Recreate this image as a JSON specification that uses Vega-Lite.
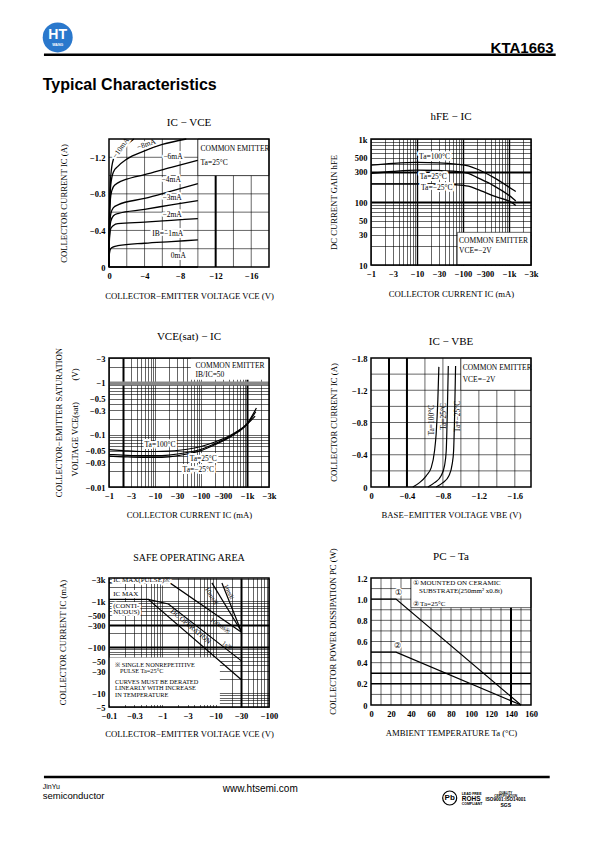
{
  "$schema": "https://vega.github.io/schema/vega-lite/v6.json",
  "padding": {"left": 42, "top": 22, "right": 0, "bottom": 0},
  "background": "white",
  "columns": 2,
  "spacing": {"row": 91, "column": 102},
  "bounds": "flush",
  "align": "each",
  "config": {
    "view": {"stroke": null},
    "font": "Liberation Serif",
    "axis": {
      "domain": false, "ticks": false, "grid": true,
      "gridColor": "black", "gridOpacity": 1, "gridWidth": 0.6,
      "labelFont": "Liberation Serif", "labelFontSize": 8.5, "labelFontWeight": "bold", "labelColor": "black", "labelPadding": 4,
      "labelOverlap": "greedy", "labelFlush": false, "labelBound": false,
      "titleFont": "Liberation Serif", "titleFontSize": 8.7, "titleFontWeight": "normal", "titleColor": "black"
    },
    "axisX": {"titleAngle": 0, "titleBaseline": "middle", "titleAlign": "center"},
    "axisY": {"titleAngle": -90, "titleBaseline": "middle", "titleAlign": "center"},
    "title": {"font": "Liberation Serif", "fontSize": 11, "fontWeight": "normal", "color": "black", "frame": "group", "anchor": "middle", "baseline": "alphabetic"},
    "text": {"font": "Liberation Serif", "fontSize": 7.5, "color": "black"}
  },
  "concat": [
    {
      "width": 160, "height": 25,
      "layer": [
        {"data": {"values": [{}]}, "mark": {"type": "point", "shape": "circle", "filled": true, "size": 900, "color": "#2a78cc", "opacity": 1},
         "encoding": {"x": {"datum": -51.3, "scale": {"domain": [0, 160]}, "axis": null}, "y": {"datum": 15, "scale": {"domain": [0, 25], "reverse": true}, "axis": null}}},
        {"data": {"values": [{}]}, "mark": {"type": "text", "text": "HT", "font": "Liberation Sans", "fontSize": 14, "fontWeight": "bold", "color": "white", "align": "center", "baseline": "middle"},
         "encoding": {"x": {"datum": -51.3}, "y": {"datum": 12.5}}},
        {"data": {"values": [{}]}, "mark": {"type": "text", "text": "WANG", "font": "Liberation Sans", "fontSize": 3.5, "fontWeight": "bold", "color": "white", "align": "center", "baseline": "middle"},
         "encoding": {"x": {"datum": -51.3}, "y": {"datum": 23}}},
        {"data": {"values": [{}]}, "mark": {"type": "rule", "color": "black", "strokeWidth": 2.5},
         "encoding": {"x": {"datum": -65.05}, "x2": {"datum": 446.7}, "y": {"datum": 33}}},
        {"data": {"values": [{}]}, "mark": {"type": "text", "text": "Typical Characteristics", "font": "Liberation Sans", "fontSize": 16, "fontWeight": "bold", "color": "black", "align": "left", "baseline": "alphabetic"},
         "encoding": {"x": {"datum": -66.3}, "y": {"datum": 70}}}
      ]
    },
    {
      "width": 160, "height": 25,
      "data": {"values": [{}]},
      "mark": {"type": "text", "text": "KTA1663", "font": "Liberation Sans", "fontSize": 15, "fontWeight": "bold", "color": "black", "align": "right", "baseline": "alphabetic"},
      "encoding": {"x": {"datum": 182.7, "scale": {"domain": [0, 160]}, "axis": null}, "y": {"datum": 30, "scale": {"domain": [0, 25], "reverse": true}, "axis": null}}
    },
    {
      "width": 160, "height": 128,
      "title": {"text": "IC  −  VCE", "offset": 8},
      "layer": [
        {"data": {"values": [{"vce": 2}, {"vce": 4}, {"vce": 6}, {"vce": 8}, {"vce": 10}, {"vce": 12}, {"vce": 14}, {"vce": 16}]},
         "mark": {"type": "rule", "color": "black"},
         "encoding": {
           "x": {"field": "vce", "type": "quantitative", "scale": {"domain": [0, 18], "nice": false},
             "axis": {"title": "COLLECTOR−EMITTER VOLTAGE VCE (V)", "titleX": 80, "titleY": 28, "grid": false, "tickCount": 50,
               "values": [0, 4, 8, 12, 16],
               "labelExpr": "datum.value == 0 ? '0' : '−' + datum.value"}},
           "strokeWidth": {"condition": {"test": "datum.vce == 12", "value": 2}, "value": 0.6}}},
        {"data": {"values": [{"ic": 0.2}, {"ic": 0.4}, {"ic": 0.6}, {"ic": 0.8}, {"ic": 1.0}, {"ic": 1.2}]},
         "mark": {"type": "rule", "color": "black", "strokeWidth": 0.6},
         "encoding": {
           "y": {"field": "ic", "type": "quantitative", "scale": {"domain": [0, 1.4], "nice": false},
             "axis": {"title": "COLLECTOR CURRENT IC (A)", "titleX": -46, "titleY": 64, "grid": false, "tickCount": 50,
               "values": [0, 0.4, 0.8, 1.2],
               "labelExpr": "datum.value == 0 ? '0' : '−' + datum.value"}}}},
        {
          "data": {"values": [
            {"ib": "-10mA", "vce": 0, "ic": 0}, {"ib": "-10mA", "vce": 0.05, "ic": 0.6}, {"ib": "-10mA", "vce": 0.2, "ic": 1.0}, {"ib": "-10mA", "vce": 0.5, "ic": 1.18}, {"ib": "-10mA", "vce": 1, "ic": 1.26}, {"ib": "-10mA", "vce": 2, "ic": 1.34}, {"ib": "-10mA", "vce": 2.8, "ic": 1.4},
            {"ib": "-8mA", "vce": 0, "ic": 0}, {"ib": "-8mA", "vce": 0.05, "ic": 0.55}, {"ib": "-8mA", "vce": 0.2, "ic": 0.9}, {"ib": "-8mA", "vce": 0.5, "ic": 1.04}, {"ib": "-8mA", "vce": 1, "ic": 1.1}, {"ib": "-8mA", "vce": 2, "ic": 1.18}, {"ib": "-8mA", "vce": 4, "ic": 1.27}, {"ib": "-8mA", "vce": 6, "ic": 1.34}, {"ib": "-8mA", "vce": 8.7, "ic": 1.4},
            {"ib": "-6mA", "vce": 0, "ic": 0}, {"ib": "-6mA", "vce": 0.05, "ic": 0.5}, {"ib": "-6mA", "vce": 0.2, "ic": 0.78}, {"ib": "-6mA", "vce": 0.5, "ic": 0.88}, {"ib": "-6mA", "vce": 1, "ic": 0.92}, {"ib": "-6mA", "vce": 2, "ic": 0.96}, {"ib": "-6mA", "vce": 4, "ic": 1.01}, {"ib": "-6mA", "vce": 7, "ic": 1.09}, {"ib": "-6mA", "vce": 10, "ic": 1.167},
            {"ib": "-4mA", "vce": 0, "ic": 0}, {"ib": "-4mA", "vce": 0.05, "ic": 0.4}, {"ib": "-4mA", "vce": 0.2, "ic": 0.58}, {"ib": "-4mA", "vce": 0.5, "ic": 0.65}, {"ib": "-4mA", "vce": 1, "ic": 0.68}, {"ib": "-4mA", "vce": 4, "ic": 0.75}, {"ib": "-4mA", "vce": 7, "ic": 0.83}, {"ib": "-4mA", "vce": 10, "ic": 0.911},
            {"ib": "-3mA", "vce": 0, "ic": 0}, {"ib": "-3mA", "vce": 0.05, "ic": 0.35}, {"ib": "-3mA", "vce": 0.2, "ic": 0.5}, {"ib": "-3mA", "vce": 0.5, "ic": 0.56}, {"ib": "-3mA", "vce": 1, "ic": 0.585}, {"ib": "-3mA", "vce": 4, "ic": 0.63}, {"ib": "-3mA", "vce": 7, "ic": 0.68}, {"ib": "-3mA", "vce": 10, "ic": 0.726},
            {"ib": "-2mA", "vce": 0, "ic": 0}, {"ib": "-2mA", "vce": 0.05, "ic": 0.3}, {"ib": "-2mA", "vce": 0.2, "ic": 0.42}, {"ib": "-2mA", "vce": 0.5, "ic": 0.455}, {"ib": "-2mA", "vce": 1, "ic": 0.474}, {"ib": "-2mA", "vce": 4, "ic": 0.49}, {"ib": "-2mA", "vce": 7, "ic": 0.51}, {"ib": "-2mA", "vce": 10, "ic": 0.53},
            {"ib": "-1mA", "vce": 0, "ic": 0}, {"ib": "-1mA", "vce": 0.05, "ic": 0.15}, {"ib": "-1mA", "vce": 0.2, "ic": 0.2}, {"ib": "-1mA", "vce": 0.5, "ic": 0.22}, {"ib": "-1mA", "vce": 1, "ic": 0.233}, {"ib": "-1mA", "vce": 4, "ic": 0.26}, {"ib": "-1mA", "vce": 7, "ic": 0.278}, {"ib": "-1mA", "vce": 10, "ic": 0.296},
            {"ib": "0mA", "vce": 0, "ic": 0}, {"ib": "0mA", "vce": 10, "ic": 0}
          ]},
          "mark": {"type": "line", "interpolate": "monotone", "color": "black", "strokeWidth": 1.3},
          "encoding": {
            "x": {"field": "vce", "type": "quantitative"},
            "y": {"field": "ic", "type": "quantitative"},
            "detail": {"field": "ib"}
          }
        },
        {"data": {"values": [{}]}, "mark": {"type": "rect", "fill": "white", "stroke": "black", "strokeWidth": 0.6},
         "encoding": {"x": {"datum": 10}, "x2": {"datum": 18}, "y": {"datum": 1.0}, "y2": {"datum": 1.4}}},
        {"data": {"values": [
            {"t": "−6mA", "vce": 7.2, "ic": 1.2}, {"t": "−4mA", "vce": 7.0, "ic": 0.95}, {"t": "−3mA", "vce": 7.1, "ic": 0.75},
            {"t": "−2mA", "vce": 7.1, "ic": 0.57}, {"t": "IB=−1mA", "vce": 6.6, "ic": 0.36}, {"t": "0mA", "vce": 7.8, "ic": 0.12}]},
         "encoding": {"x": {"field": "vce", "type": "quantitative"}, "y": {"field": "ic", "type": "quantitative"}, "text": {"field": "t"}},
         "layer": [
           {"mark": {"type": "text", "align": "center", "baseline": "middle", "stroke": "white", "strokeWidth": 4, "strokeJoin": "round", "fill": "white"}},
           {"mark": {"type": "text", "align": "center", "baseline": "middle"}}
         ]},
        {"data": {"values": [{"t": "COMMON EMITTER", "vce": 10.3, "ic": 1.29}, {"t": "Ta=25°C", "vce": 10.3, "ic": 1.14}]},
         "mark": {"type": "text", "align": "left", "baseline": "middle"},
         "encoding": {"x": {"field": "vce", "type": "quantitative"}, "y": {"field": "ic", "type": "quantitative"}, "text": {"field": "t"}}},
        {"data": {"values": [{"t": "−10mA", "vce": 1.35, "ic": 1.3}]},
         "encoding": {"x": {"field": "vce", "type": "quantitative"}, "y": {"field": "ic", "type": "quantitative"}, "text": {"field": "t"}},
         "layer": [
           {"mark": {"type": "text", "align": "center", "baseline": "middle", "angle": 305, "stroke": "white", "strokeWidth": 4, "strokeJoin": "round", "fill": "white"}},
           {"mark": {"type": "text", "align": "center", "baseline": "middle", "angle": 305}}
         ]},
        {"data": {"values": [{"t": "−8mA", "vce": 4.2, "ic": 1.34}]},
         "encoding": {"x": {"field": "vce", "type": "quantitative"}, "y": {"field": "ic", "type": "quantitative"}, "text": {"field": "t"}},
         "layer": [
           {"mark": {"type": "text", "align": "center", "baseline": "middle", "angle": 340, "stroke": "white", "strokeWidth": 4, "strokeJoin": "round", "fill": "white"}},
           {"mark": {"type": "text", "align": "center", "baseline": "middle", "angle": 340}}
         ]},
        {"data": {"values": [{}]}, "mark": {"type": "rect", "filled": false, "stroke": "black", "strokeWidth": 1.5},
         "encoding": {"x": {"datum": 0}, "x2": {"datum": 18}, "y": {"datum": 0}, "y2": {"datum": 1.4}}}
      ]
    },
    {
      "width": 160, "height": 126,
      "title": {"text": "hFE  −  IC", "offset": 13},
      "layer": [
        {
          "data": {"values": [
            {"s": "100", "ic": 1, "hfe": 385}, {"s": "100", "ic": 3, "hfe": 410}, {"s": "100", "ic": 10, "hfe": 425}, {"s": "100", "ic": 30, "hfe": 418}, {"s": "100", "ic": 70, "hfe": 400}, {"s": "100", "ic": 130, "hfe": 375}, {"s": "100", "ic": 200, "hfe": 334}, {"s": "100", "ic": 460, "hfe": 246}, {"s": "100", "ic": 1250, "hfe": 155}, {"s": "100", "ic": 1400, "hfe": 147},
            {"s": "25", "ic": 1, "hfe": 284}, {"s": "25", "ic": 3, "hfe": 305}, {"s": "25", "ic": 10, "hfe": 320}, {"s": "25", "ic": 30, "hfe": 316}, {"s": "25", "ic": 70, "hfe": 306}, {"s": "25", "ic": 130, "hfe": 285}, {"s": "25", "ic": 200, "hfe": 246}, {"s": "25", "ic": 460, "hfe": 182}, {"s": "25", "ic": 1250, "hfe": 112}, {"s": "25", "ic": 1400, "hfe": 104},
            {"s": "-25", "ic": 1, "hfe": 193}, {"s": "-25", "ic": 10, "hfe": 193}, {"s": "-25", "ic": 30, "hfe": 192}, {"s": "-25", "ic": 70, "hfe": 188}, {"s": "-25", "ic": 130, "hfe": 178}, {"s": "-25", "ic": 200, "hfe": 160}, {"s": "-25", "ic": 460, "hfe": 125}, {"s": "-25", "ic": 1250, "hfe": 94}, {"s": "-25", "ic": 1400, "hfe": 88}
          ]},
          "mark": {"type": "line", "interpolate": "monotone", "color": "black", "strokeWidth": 1.3},
          "encoding": {
            "x": {"field": "ic", "type": "quantitative", "scale": {"type": "log", "domain": [1, 3000], "nice": false},
              "axis": {"title": "COLLECTOR CURRENT IC (mA)", "titleX": 80, "titleY": 28, "tickCount": 100,
                "values": [1, 2, 3, 4, 5, 6, 7, 8, 9, 10, 20, 30, 40, 50, 60, 70, 80, 90, 100, 200, 300, 400, 500, 600, 700, 800, 900, 1000, 2000, 3000],
                "labelExpr": "indexof([1, 3, 10, 30, 100, 300], datum.value) >= 0 ? '−' + datum.value : (datum.value == 1000 ? '−1k' : (datum.value == 3000 ? '−3k' : ''))",
                "gridWidth": {"condition": {"test": "indexof([10, 100, 1000], datum.value) >= 0", "value": 1.4}, "value": 0.6}}},
            "y": {"field": "hfe", "type": "quantitative", "scale": {"type": "log", "domain": [10, 1000], "nice": false},
              "axis": {"title": "DC CURRENT GAIN hFE", "titleX": -38, "titleY": 63, "tickCount": 100,
                "values": [10, 20, 30, 40, 50, 60, 70, 80, 90, 100, 200, 300, 400, 500, 600, 700, 800, 900, 1000],
                "labelExpr": "indexof([10, 30, 50, 100, 300, 500], datum.value) >= 0 ? '' + datum.value : (datum.value == 1000 ? '1k' : '')",
                "gridWidth": {"condition": {"test": "indexof([100, 300], datum.value) >= 0", "value": 1.8}, "value": 0.6}}},
            "detail": {"field": "s"}
          }
        },
        {"data": {"values": [{}]}, "mark": {"type": "rect", "fill": "white", "stroke": "black", "strokeWidth": 0.6},
         "encoding": {"x": {"datum": 75}, "x2": {"datum": 3000}, "y": {"datum": 10}, "y2": {"datum": 33}}},
        {"data": {"values": [{"t": "Ta=100°C", "ic": 24, "hfe": 524}, {"t": "Ta=25°C", "ic": 22.6, "hfe": 246}, {"t": "Ta=−25°C", "ic": 26.8, "hfe": 167}]},
         "encoding": {"x": {"field": "ic", "type": "quantitative"}, "y": {"field": "hfe", "type": "quantitative"}, "text": {"field": "t"}},
         "layer": [
           {"mark": {"type": "text", "align": "center", "baseline": "middle", "stroke": "white", "strokeWidth": 4, "strokeJoin": "round", "fill": "white"}},
           {"mark": {"type": "text", "align": "center", "baseline": "middle"}}
         ]},
        {"data": {"values": [{"t": "COMMON EMITTER", "ic": 82, "hfe": 24}, {"t": "VCE=−2V", "ic": 82, "hfe": 16.5}]},
         "mark": {"type": "text", "align": "left", "baseline": "middle"},
         "encoding": {"x": {"field": "ic", "type": "quantitative"}, "y": {"field": "hfe", "type": "quantitative"}, "text": {"field": "t"}}},
        {"data": {"values": [{}]}, "mark": {"type": "rect", "filled": false, "stroke": "black", "strokeWidth": 1.5},
         "encoding": {"x": {"datum": 1}, "x2": {"datum": 3000}, "y": {"datum": 10}, "y2": {"datum": 1000}}}
      ]
    },
    {
      "width": 160, "height": 129,
      "title": {"text": "VCE(sat)  −  IC", "offset": 5},
      "layer": [
        {
          "data": {"values": [
            {"s": "100", "ic": 1, "v": 0.052}, {"s": "100", "ic": 2, "v": 0.05}, {"s": "100", "ic": 5, "v": 0.048}, {"s": "100", "ic": 10, "v": 0.048}, {"s": "100", "ic": 20, "v": 0.049}, {"s": "100", "ic": 50, "v": 0.053}, {"s": "100", "ic": 100, "v": 0.06}, {"s": "100", "ic": 200, "v": 0.073}, {"s": "100", "ic": 500, "v": 0.105}, {"s": "100", "ic": 1000, "v": 0.16}, {"s": "100", "ic": 1500, "v": 0.23},
            {"s": "25", "ic": 1, "v": 0.042}, {"s": "25", "ic": 2, "v": 0.041}, {"s": "25", "ic": 5, "v": 0.04}, {"s": "25", "ic": 10, "v": 0.04}, {"s": "25", "ic": 20, "v": 0.041}, {"s": "25", "ic": 50, "v": 0.046}, {"s": "25", "ic": 100, "v": 0.053}, {"s": "25", "ic": 200, "v": 0.068}, {"s": "25", "ic": 500, "v": 0.102}, {"s": "25", "ic": 1000, "v": 0.165}, {"s": "25", "ic": 1600, "v": 0.33},
            {"s": "-25", "ic": 1, "v": 0.039}, {"s": "-25", "ic": 2, "v": 0.038}, {"s": "-25", "ic": 5, "v": 0.037}, {"s": "-25", "ic": 10, "v": 0.037}, {"s": "-25", "ic": 20, "v": 0.038}, {"s": "-25", "ic": 50, "v": 0.043}, {"s": "-25", "ic": 100, "v": 0.05}, {"s": "-25", "ic": 200, "v": 0.065}, {"s": "-25", "ic": 500, "v": 0.099}, {"s": "-25", "ic": 1000, "v": 0.16}, {"s": "-25", "ic": 1550, "v": 0.28}
          ]},
          "mark": {"type": "line", "interpolate": "monotone", "color": "black", "strokeWidth": 1.2},
          "encoding": {
            "x": {"field": "ic", "type": "quantitative", "scale": {"type": "log", "domain": [1, 3000], "nice": false},
              "axis": {"title": "COLLECTOR CURRENT IC (mA)", "titleX": 80, "titleY": 27, "tickCount": 100,
                "values": [1, 2, 3, 4, 5, 6, 7, 8, 9, 10, 20, 30, 40, 50, 60, 70, 80, 90, 100, 200, 300, 400, 500, 600, 700, 800, 900, 1000, 2000, 3000],
                "labelExpr": "indexof([1, 3, 10, 30, 100, 300], datum.value) >= 0 ? '−' + datum.value : (datum.value == 1000 ? '−1k' : (datum.value == 3000 ? '−3k' : ''))",
                "gridWidth": {"condition": {"test": "indexof([2, 1000], datum.value) >= 0", "value": 2}, "value": 0.6}}},
            "y": {"field": "v", "type": "quantitative", "scale": {"type": "log", "domain": [0.01, 3], "nice": false},
              "axis": {"title": ["COLLECTOR−EMITTER SATURATION", "\u00a0\u00a0\u00a0\u00a0\u00a0\u00a0\u00a0\u00a0\u00a0VOLTAGE VCE(sat)\u00a0\u00a0\u00a0\u00a0\u00a0\u00a0\u00a0\u00a0\u00a0\u00a0(V)"], "titleX": -51, "titleY": 64, "titleLineHeight": 16, "tickCount": 100,
                "values": [0.01, 0.02, 0.03, 0.04, 0.05, 0.06, 0.07, 0.08, 0.09, 0.1, 0.2, 0.3, 0.4, 0.5, 0.6, 0.7, 0.8, 0.9, 1, 2, 3],
                "labelExpr": "indexof([0.01, 0.03, 0.05, 0.1, 0.3, 0.5, 1, 3], datum.value) >= 0 ? '−' + datum.value : ''",
                "gridWidth": {"condition": {"test": "datum.value == 1", "value": 4}, "value": 0.6},
                "gridColor": {"condition": {"test": "datum.value == 1", "value": "#888888"}, "value": "black"}}},
            "detail": {"field": "s"}
          }
        },
        {"data": {"values": [{}]}, "mark": {"type": "rect", "fill": "white"},
         "encoding": {"x": {"datum": 60}, "x2": {"datum": 3000}, "y": {"datum": 1.15}, "y2": {"datum": 3}}},
        {"data": {"values": [{"t": "Ta=100°C", "ic": 12.8, "v": 0.065}, {"t": "Ta=25°C", "ic": 112, "v": 0.0343}, {"t": "Ta=−25°C", "ic": 87, "v": 0.021}]},
         "encoding": {"x": {"field": "ic", "type": "quantitative"}, "y": {"field": "v", "type": "quantitative"}, "text": {"field": "t"}},
         "layer": [
           {"mark": {"type": "text", "align": "center", "baseline": "middle", "stroke": "white", "strokeWidth": 4, "strokeJoin": "round", "fill": "white"}},
           {"mark": {"type": "text", "align": "center", "baseline": "middle"}}
         ]},
        {"data": {"values": [{"t": "COMMON EMITTER", "ic": 76, "v": 2.1}, {"t": "IB/IC=50", "ic": 76, "v": 1.44}]},
         "mark": {"type": "text", "align": "left", "baseline": "middle"},
         "encoding": {"x": {"field": "ic", "type": "quantitative"}, "y": {"field": "v", "type": "quantitative"}, "text": {"field": "t"}}},
        {"data": {"values": [{}]}, "mark": {"type": "rect", "filled": false, "stroke": "black", "strokeWidth": 1.5},
         "encoding": {"x": {"datum": 1}, "x2": {"datum": 3000}, "y": {"datum": 0.01}, "y2": {"datum": 3}}}
      ]
    },
    {
      "width": 160, "height": 129,
      "title": {"text": "IC  −  VBE", "offset": 7},
      "layer": [
        {"data": {"values": [{"vbe": 0.2}, {"vbe": 0.4}, {"vbe": 0.6}, {"vbe": 0.8}, {"vbe": 1.0}, {"vbe": 1.2}, {"vbe": 1.4}, {"vbe": 1.6}]},
         "mark": {"type": "rule", "color": "black"},
         "encoding": {
           "x": {"field": "vbe", "type": "quantitative", "scale": {"domain": [0, 1.78], "nice": false},
             "axis": {"title": "BASE−EMITTER VOLTAGE VBE (V)", "titleX": 80, "titleY": 27, "grid": false, "tickCount": 50,
               "values": [0, 0.4, 0.8, 1.2, 1.6],
               "labelExpr": "datum.value == 0 ? '0' : '−' + datum.value"}},
           "strokeWidth": {"condition": {"test": "datum.vbe == 0.2 || datum.vbe == 0.4", "value": 2}, "value": 0.6}}},
        {"data": {"values": [{"ic": 0.2}, {"ic": 0.4}, {"ic": 0.6}, {"ic": 0.8}, {"ic": 1.0}, {"ic": 1.2}, {"ic": 1.4}]},
         "mark": {"type": "rule", "color": "black", "strokeWidth": 0.6},
         "encoding": {
           "y": {"field": "ic", "type": "quantitative", "scale": {"domain": [0, 1.6], "nice": false},
             "axis": {"title": "COLLECTOR CURRENT IC (A)", "titleX": -38, "titleY": 64, "grid": false, "tickCount": 50,
               "values": [0, 0.4, 0.8, 1.2, 1.6],
               "labelExpr": "datum.value == 0 ? '0' : (datum.value == 1.6 ? '−1.8' : '−' + datum.value)"}}}},
        {
          "data": {"values": [
            {"s": "100", "vbe": 0.465, "ic": 0}, {"s": "100", "vbe": 0.54, "ic": 0.054}, {"s": "100", "vbe": 0.614, "ic": 0.139}, {"s": "100", "vbe": 0.67, "ic": 0.24}, {"s": "100", "vbe": 0.707, "ic": 0.45}, {"s": "100", "vbe": 0.725, "ic": 0.66}, {"s": "100", "vbe": 0.744, "ic": 1.09}, {"s": "100", "vbe": 0.755, "ic": 1.49},
            {"s": "25", "vbe": 0.633, "ic": 0}, {"s": "25", "vbe": 0.707, "ic": 0.054}, {"s": "25", "vbe": 0.78, "ic": 0.14}, {"s": "25", "vbe": 0.818, "ic": 0.265}, {"s": "25", "vbe": 0.837, "ic": 0.45}, {"s": "25", "vbe": 0.848, "ic": 0.875}, {"s": "25", "vbe": 0.86, "ic": 1.5},
            {"s": "-25", "vbe": 0.725, "ic": 0}, {"s": "-25", "vbe": 0.8, "ic": 0.054}, {"s": "-25", "vbe": 0.867, "ic": 0.14}, {"s": "-25", "vbe": 0.904, "ic": 0.29}, {"s": "-25", "vbe": 0.919, "ic": 0.45}, {"s": "-25", "vbe": 0.93, "ic": 0.875}, {"s": "-25", "vbe": 0.941, "ic": 1.5}
          ]},
          "mark": {"type": "line", "interpolate": "monotone", "color": "black", "strokeWidth": 1.2},
          "encoding": {
            "x": {"field": "vbe", "type": "quantitative"},
            "y": {"field": "ic", "type": "quantitative"},
            "detail": {"field": "s"}
          }
        },
        {"data": {"values": [{}]}, "mark": {"type": "rect", "fill": "white", "stroke": "black", "strokeWidth": 0.6},
         "encoding": {"x": {"datum": 1.0}, "x2": {"datum": 1.78}, "y": {"datum": 1.2}, "y2": {"datum": 1.6}}},
        {"data": {"values": [{"t": "Ta=100°C", "vbe": 0.68, "ic": 0.83}, {"t": "Ta=25°C", "vbe": 0.807, "ic": 0.875}, {"t": "Ta=−25°C", "vbe": 0.967, "ic": 0.875}]},
         "mark": {"type": "text", "align": "center", "baseline": "middle", "angle": 270},
         "encoding": {"x": {"field": "vbe", "type": "quantitative"}, "y": {"field": "ic", "type": "quantitative"}, "text": {"field": "t"}}},
        {"data": {"values": [{"t": "COMMON EMITTER", "vbe": 1.02, "ic": 1.47}, {"t": "VCE=−2V", "vbe": 1.02, "ic": 1.33}]},
         "mark": {"type": "text", "align": "left", "baseline": "middle"},
         "encoding": {"x": {"field": "vbe", "type": "quantitative"}, "y": {"field": "ic", "type": "quantitative"}, "text": {"field": "t"}}},
        {"data": {"values": [{}]}, "mark": {"type": "rect", "filled": false, "stroke": "black", "strokeWidth": 1.5},
         "encoding": {"x": {"datum": 0}, "x2": {"datum": 1.78}, "y": {"datum": 0}, "y2": {"datum": 1.6}}}
      ]
    },
    {
      "width": 160, "height": 129,
      "title": {"text": "SAFE OPERATING AREA", "offset": 12, "fontSize": 10},
      "layer": [
        {"data": {"values": [{}]}, "mark": {"type": "rect", "fill": "white"},
         "encoding": {"x": {"datum": 0.1}, "x2": {"datum": 12}, "y": {"datum": 5.5}, "y2": {"datum": 60}}},
        {
          "data": {"values": [
            {"s": "pulse", "vce": 0.1, "ic": 2500}, {"s": "pulse", "vce": 1.39, "ic": 2500}, {"s": "pulse", "vce": 30, "ic": 215},
            {"s": "10ms", "vce": 8.5, "ic": 2500}, {"s": "10ms", "vce": 30, "ic": 225},
            {"s": "1ms", "vce": 13.1, "ic": 2500}, {"s": "1ms", "vce": 30, "ic": 225},
            {"s": "dc", "vce": 0.1, "ic": 1100}, {"s": "dc", "vce": 0.544, "ic": 1100}, {"s": "dc", "vce": 30, "ic": 19.8},
            {"s": "1s", "vce": 0.544, "ic": 1100}, {"s": "1s", "vce": 1.3, "ic": 872}, {"s": "1s", "vce": 30, "ic": 51}
          ]},
          "mark": {"type": "line", "color": "black", "strokeWidth": 1.2},
          "encoding": {
            "x": {"field": "vce", "type": "quantitative", "scale": {"type": "log", "domain": [0.1, 100], "nice": false},
              "axis": {"title": "COLLECTOR−EMITTER VOLTAGE VCE (V)", "titleX": 80, "titleY": 26, "tickCount": 100,
                "values": [0.1, 0.2, 0.3, 0.4, 0.5, 0.6, 0.7, 0.8, 0.9, 1, 2, 3, 4, 5, 6, 7, 8, 9, 10, 20, 30, 40, 50, 60, 70, 80, 90, 100],
                "labelExpr": "indexof([0.1, 0.3, 1, 3, 10, 30, 100], datum.value) >= 0 ? '−' + datum.value : ''",
                "gridWidth": {"condition": {"test": "datum.value == 30", "value": 2}, "value": 0.6}}},
            "y": {"field": "ic", "type": "quantitative", "scale": {"type": "log", "domain": [5, 3200], "nice": false},
              "axis": {"title": "COLLECTOR CURRENT IC (mA)", "titleX": -47, "titleY": 64, "tickCount": 100,
                "values": [5, 6, 7, 8, 9, 10, 20, 30, 40, 50, 60, 70, 80, 90, 100, 200, 300, 400, 500, 600, 700, 800, 900, 1000, 2000, 3000],
                "labelExpr": "indexof([5, 10, 30, 50, 100, 300, 500], datum.value) >= 0 ? '−' + datum.value : (datum.value == 1000 ? '−1k' : (datum.value == 3000 ? '−3k' : ''))",
                "gridWidth": {"condition": {"test": "indexof([100, 300], datum.value) >= 0", "value": 1.8}, "value": 0.6}}},
            "detail": {"field": "s"}
          }
        },
        {"data": {"values": [
            {"t": "IC MAX(PULSE)※", "vce": 0.12, "ic": 2850}, {"t": "IC MAX", "vce": 0.12, "ic": 1440},
            {"t": "(CONTI-", "vce": 0.12, "ic": 806}, {"t": "NUOUS)", "vce": 0.12, "ic": 574}]},
         "encoding": {"x": {"field": "vce", "type": "quantitative"}, "y": {"field": "ic", "type": "quantitative"}, "text": {"field": "t"}},
         "layer": [
           {"mark": {"type": "text", "align": "left", "baseline": "middle", "fontSize": 7, "stroke": "white", "strokeWidth": 4, "strokeJoin": "round", "fill": "white"}},
           {"mark": {"type": "text", "align": "left", "baseline": "middle", "fontSize": 7}}
         ]},
        {"data": {"values": [
            {"t": "※ SINGLE NONREPETITIVE", "vce": 0.13, "ic": 41}, {"t": "PULSE Ta=25°C", "vce": 0.16, "ic": 29.6},
            {"t": "CURVES MUST BE DERATED", "vce": 0.13, "ic": 17.9}, {"t": "LINEARLY WITH INCREASE", "vce": 0.13, "ic": 12.9},
            {"t": "IN TEMPERATURE", "vce": 0.13, "ic": 9.3}]},
         "mark": {"type": "text", "align": "left", "baseline": "middle", "fontSize": 6.3},
         "encoding": {"x": {"field": "vce", "type": "quantitative"}, "y": {"field": "ic", "type": "quantitative"}, "text": {"field": "t"}}},
        {"data": {"values": [{"t": "DC OPERATION", "vce": 3.4, "ic": 280}]},
         "mark": {"type": "text", "align": "center", "baseline": "middle", "fontSize": 7, "angle": 40},
         "encoding": {"x": {"field": "vce", "type": "quantitative"}, "y": {"field": "ic", "type": "quantitative"}, "text": {"field": "t"}}},
        {"data": {"values": [{"t": "1s※", "vce": 16.3, "ic": 108}]},
         "mark": {"type": "text", "align": "center", "baseline": "middle", "fontSize": 6.5, "angle": 38},
         "encoding": {"x": {"field": "vce", "type": "quantitative"}, "y": {"field": "ic", "type": "quantitative"}, "text": {"field": "t"}}},
        {"data": {"values": [{"t": "100ms※", "vce": 12.2, "ic": 296}]},
         "mark": {"type": "text", "align": "center", "baseline": "middle", "fontSize": 6.5, "angle": 33},
         "encoding": {"x": {"field": "vce", "type": "quantitative"}, "y": {"field": "ic", "type": "quantitative"}, "text": {"field": "t"}}},
        {"data": {"values": [{"t": "10ms※", "vce": 8.3, "ic": 1300}]},
         "mark": {"type": "text", "align": "center", "baseline": "middle", "fontSize": 6.5, "angle": 59},
         "encoding": {"x": {"field": "vce", "type": "quantitative"}, "y": {"field": "ic", "type": "quantitative"}, "text": {"field": "t"}}},
        {"data": {"values": [{"t": "1ms※", "vce": 17.7, "ic": 1600}]},
         "mark": {"type": "text", "align": "center", "baseline": "middle", "fontSize": 6.5, "angle": 66},
         "encoding": {"x": {"field": "vce", "type": "quantitative"}, "y": {"field": "ic", "type": "quantitative"}, "text": {"field": "t"}}},
        {"data": {"values": [{}]}, "mark": {"type": "rect", "filled": false, "stroke": "black", "strokeWidth": 1.5},
         "encoding": {"x": {"datum": 0.1}, "x2": {"datum": 100}, "y": {"datum": 5}, "y2": {"datum": 3200}}}
      ]
    },
    {
      "width": 160, "height": 127,
      "title": {"text": "PC  −  Ta", "offset": -14},
      "layer": [
        {"data": {"values": [{"ta": 10}, {"ta": 20}, {"ta": 30}, {"ta": 40}, {"ta": 50}, {"ta": 60}, {"ta": 70}, {"ta": 80}, {"ta": 90}, {"ta": 100}, {"ta": 110}, {"ta": 120}, {"ta": 130}, {"ta": 140}, {"ta": 150}]},
         "mark": {"type": "rule", "color": "black"},
         "encoding": {
           "x": {"field": "ta", "type": "quantitative", "scale": {"domain": [0, 160], "nice": false},
             "axis": {"title": "AMBIENT TEMPERATURE Ta (°C)", "titleX": 80, "titleY": 27, "grid": false, "tickCount": 50,
               "values": [0, 20, 40, 60, 80, 100, 120, 140, 160],
               "labelExpr": "'' + datum.value"}},
           "strokeWidth": {"condition": {"test": "datum.ta == 140", "value": 2}, "value": 0.6}}},
        {"data": {"values": [{"pc": 0.1}, {"pc": 0.2}, {"pc": 0.3}, {"pc": 0.4}, {"pc": 0.5}, {"pc": 0.6}, {"pc": 0.7}, {"pc": 0.8}, {"pc": 0.9}, {"pc": 1.0}, {"pc": 1.1}]},
         "mark": {"type": "rule", "color": "black"},
         "encoding": {
           "y": {"field": "pc", "type": "quantitative", "scale": {"domain": [0, 1.2], "nice": false},
             "axis": {"title": "COLLECTOR POWER DISSIPATION PC (W)", "titleX": -39, "titleY": 53, "grid": false, "tickCount": 50,
               "values": [0, 0.2, 0.4, 0.6, 0.8, 1, 1.2],
               "labelExpr": "datum.value == 0 ? '0' : format(datum.value, '.1f')"}},
           "strokeWidth": {"condition": {"test": "datum.pc == 0.2 || datum.pc == 0.3", "value": 1.5}, "value": 0.6}}},
        {
          "data": {"values": [
            {"s": "1", "ta": 0, "pc": 1.0}, {"s": "1", "ta": 25, "pc": 1.0}, {"s": "1", "ta": 150, "pc": 0},
            {"s": "2", "ta": 0, "pc": 0.5}, {"s": "2", "ta": 25, "pc": 0.5}, {"s": "2", "ta": 150, "pc": 0}
          ]},
          "mark": {"type": "line", "color": "black", "strokeWidth": 1.2},
          "encoding": {
            "x": {"field": "ta", "type": "quantitative"},
            "y": {"field": "pc", "type": "quantitative"},
            "detail": {"field": "s"}
          }
        },
        {"data": {"values": [{}]}, "mark": {"type": "rect", "fill": "white", "stroke": "black", "strokeWidth": 0.6},
         "encoding": {"x": {"datum": 40}, "x2": {"datum": 160}, "y": {"datum": 0.92}, "y2": {"datum": 1.2}}},
        {"data": {"values": [{"t": "①", "ta": 27, "pc": 1.06}, {"t": "②", "ta": 26, "pc": 0.56}]},
         "encoding": {"x": {"field": "ta", "type": "quantitative"}, "y": {"field": "pc", "type": "quantitative"}, "text": {"field": "t"}},
         "layer": [
           {"mark": {"type": "text", "align": "center", "baseline": "middle", "fontSize": 8, "stroke": "white", "strokeWidth": 3, "fill": "white"}},
           {"mark": {"type": "text", "align": "center", "baseline": "middle", "fontSize": 8}}
         ]},
        {"data": {"values": [{"t": "① MOUNTED ON CERAMIC", "ta": 41.5, "pc": 1.15}, {"t": "SUBSTRATE(250mm² x0.8t)", "ta": 48, "pc": 1.075}, {"t": "② Ta=25°C", "ta": 41.5, "pc": 0.95}]},
         "mark": {"type": "text", "align": "left", "baseline": "middle", "fontSize": 7},
         "encoding": {"x": {"field": "ta", "type": "quantitative"}, "y": {"field": "pc", "type": "quantitative"}, "text": {"field": "t"}}},
        {"data": {"values": [{}]}, "mark": {"type": "rect", "filled": false, "stroke": "black", "strokeWidth": 1.5},
         "encoding": {"x": {"datum": 0}, "x2": {"datum": 160}, "y": {"datum": 0}, "y2": {"datum": 1.2}}}
      ]
    },
    {
      "width": 160, "height": 10,
      "layer": [
        {"data": {"values": [{}]}, "mark": {"type": "rule", "color": "black", "strokeWidth": 2.5},
         "encoding": {"x": {"datum": -65.05, "scale": {"domain": [0, 160]}, "axis": null}, "x2": {"datum": 440.7}, "y": {"datum": -21, "scale": {"domain": [0, 10], "reverse": true}, "axis": null}}},
        {"data": {"values": [{}]}, "mark": {"type": "text", "text": "JinYu", "font": "Liberation Sans", "fontSize": 7, "letterSpacing": 1, "align": "left", "baseline": "alphabetic"},
         "encoding": {"x": {"datum": -66.3}, "y": {"datum": -9}}},
        {"data": {"values": [{}]}, "mark": {"type": "text", "text": "semiconductor", "font": "Liberation Sans", "fontSize": 9.5, "align": "left", "baseline": "alphabetic"},
         "encoding": {"x": {"datum": -66.3}, "y": {"datum": 1}}},
        {"data": {"values": [{}]}, "mark": {"type": "text", "text": "www.htsemi.com", "font": "Liberation Sans", "fontSize": 10, "align": "left", "baseline": "alphabetic"},
         "encoding": {"x": {"datum": 113.7}, "y": {"datum": -6}}}
      ]
    },
    {
      "width": 160, "height": 10,
      "layer": [
        {"data": {"values": [{}]}, "mark": {"type": "point", "shape": "circle", "filled": false, "size": 196, "color": "black", "strokeWidth": 1.2, "opacity": 1},
         "encoding": {"x": {"datum": 78.7, "scale": {"domain": [0, 160]}, "axis": null}, "y": {"datum": 0, "scale": {"domain": [0, 10], "reverse": true}, "axis": null}}},
        {"data": {"values": [{}]}, "mark": {"type": "text", "text": "Pb", "font": "Liberation Sans", "fontSize": 8, "fontWeight": "bold", "align": "center", "baseline": "middle"},
         "encoding": {"x": {"datum": 78.7}, "y": {"datum": 0}}},
        {"data": {"values": [
            {"t": "LEAD FREE", "px": 90.7, "py": -4}, {"t": "COMPLIANT", "px": 90.7, "py": 5.5}]},
         "mark": {"type": "text", "font": "Liberation Sans", "fontSize": 3.5, "fontWeight": "bold", "align": "left", "baseline": "middle"},
         "encoding": {"x": {"field": "px", "type": "quantitative"}, "y": {"field": "py", "type": "quantitative"}, "text": {"field": "t"}}},
        {"data": {"values": [{}]}, "mark": {"type": "text", "text": "ROHS", "font": "Liberation Sans", "fontSize": 6.5, "fontWeight": "bold", "align": "left", "baseline": "middle"},
         "encoding": {"x": {"datum": 90.7}, "y": {"datum": 1}}},
        {"data": {"values": [
            {"t": "QUALITY", "px": 134.7, "py": -5}, {"t": "CERTIFICATION", "px": 134.7, "py": -2}]},
         "mark": {"type": "text", "font": "Liberation Sans", "fontSize": 3, "fontWeight": "bold", "align": "center", "baseline": "middle"},
         "encoding": {"x": {"field": "px", "type": "quantitative"}, "y": {"field": "py", "type": "quantitative"}, "text": {"field": "t"}}},
        {"data": {"values": [{}]}, "mark": {"type": "text", "text": "ISO9001:ISO14001", "font": "Liberation Sans", "fontSize": 4.6, "fontWeight": "bold", "align": "center", "baseline": "middle"},
         "encoding": {"x": {"datum": 134.7}, "y": {"datum": 2}}},
        {"data": {"values": [{}]}, "mark": {"type": "text", "text": "SGS", "font": "Liberation Sans", "fontSize": 5, "fontWeight": "bold", "align": "center", "baseline": "middle"},
         "encoding": {"x": {"datum": 134.7}, "y": {"datum": 7}}}
      ]
    }
  ]
}
